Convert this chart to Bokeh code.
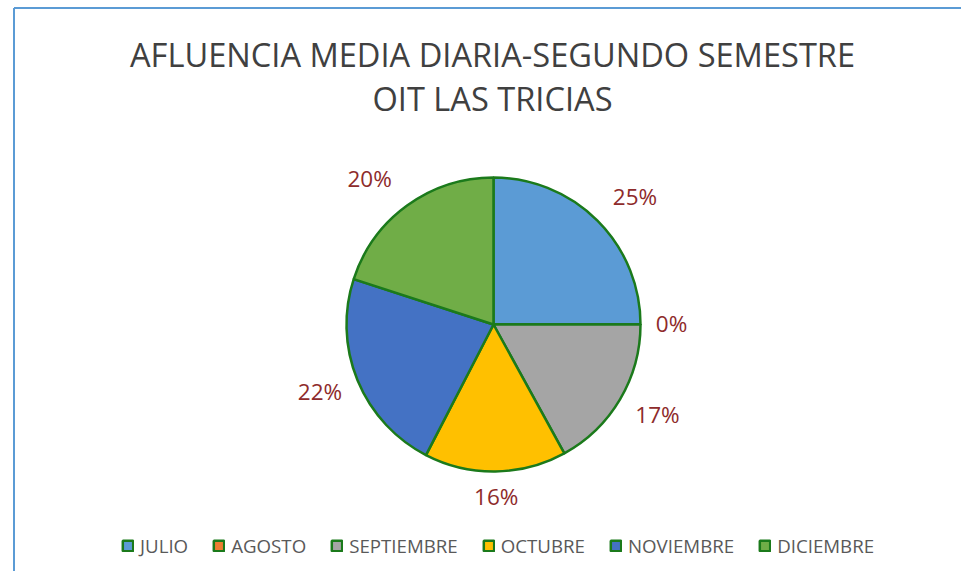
import math
from bokeh.plotting import figure
from bokeh.models import ColumnDataSource, Range1d, Legend, LegendItem
from bokeh.core.properties import value
from bokeh.embed import file_html
from bokeh.resources import INLINE

# ---- data ----
meses = ["JULIO", "AGOSTO", "SEPTIEMBRE", "OCTUBRE", "NOVIEMBRE", "DICIEMBRE"]
porcentajes = [25.0, 0.0, 17.0, 15.6, 22.4, 20.0]
etiquetas = ["25%", "0%", "17%", "16%", "22%", "20%"]
colores = ["#5B9BD5", "#ED7D31", "#A5A5A5", "#FFC000", "#4472C4", "#70AD47"]
titulo_1 = "AFLUENCIA MEDIA DIARIA-SEGUNDO SEMESTRE"
titulo_2 = "OIT LAS TRICIAS"

W, H = 961, 571


def px(x):
    return x


def py(y):
    return H - y  # image y -> data y (upwards)


p = figure(width=W, height=H, output_backend="svg", toolbar_location=None,
           x_range=Range1d(0, W), y_range=Range1d(0, H),
           min_border=0, min_border_left=0, min_border_right=0,
           min_border_top=0, min_border_bottom=0)
p.axis.visible = False
p.grid.visible = False
p.outline_line_color = None
p.background_fill_color = "white"
p.border_fill_color = "white"

# chart area edge lines
p.segment(x0=[px(13.5)], y0=[py(7.5)], x1=[px(13.5)], y1=[py(H)],
          line_color="#5B9BD5", line_width=2)
p.segment(x0=[px(13.5)], y0=[py(7.5)], x1=[px(W)], y1=[py(7.5)],
          line_color="#5B9BD5", line_width=2)

# pie geometry
cx, cy, R = px(493), py(324), 147.0
total = sum(porcentajes)
starts, ends, mids = [], [], []
cum = 0.0
for v in porcentajes:
    a0 = math.pi / 2 - 2 * math.pi * (cum + v) / total
    a1 = math.pi / 2 - 2 * math.pi * cum / total
    if v == 0:
        a1 = a0 + 1e-6  # avoid a full-circle arc for an empty slice
    starts.append(a0)
    ends.append(a1)
    mids.append((a0 + a1) / 2)
    cum += v

src = ColumnDataSource(dict(mes=meses, start=starts, end=ends, color=colores,
                            x=[cx] * len(meses), y=[cy] * len(meses)))
wr = p.wedge(x="x", y="y", radius=R, start_angle="start", end_angle="end",
             fill_color="color", line_color="#1B7A1B", line_width=2.5,
             source=src)

# data labels, "outside end" placement
fs = 22.5
lx, ly = [], []
for lab, m in zip(etiquetas, mids):
    ndig = len(lab) - 1
    w = (0.572 * ndig + 0.856) * fs
    c, s = math.cos(m), math.sin(m)
    ex, ey = cx + R * c, cy + R * s
    ox = math.copysign(w / 2 + 15, c) * min(1.0, abs(c) / 0.5)
    oy = math.copysign(26, s) * min(1.0, abs(s) / 0.8)
    lx.append(ex + ox)
    ly.append(ey + oy + 1.0)
lsrc = ColumnDataSource(dict(x=lx, y=ly, t=etiquetas))
p.text(x="x", y="y", text="t", source=lsrc, text_align="center",
       text_baseline="middle", text_font=value("Open Sans"),
       text_font_size="22.5px", text_color="#8E2B2B")

# title
tsrc = ColumnDataSource(dict(x=[px(492), px(492)], y=[py(54), py(98)],
                             t=[titulo_1, titulo_2]))
p.text(x="x", y="y", text="t", source=tsrc, text_align="center",
       text_baseline="middle", text_font=value("Open Sans"),
       text_font_size="32.6px", text_color="#404040")

# legend
items = [LegendItem(label=m, renderers=[wr], index=i) for i, m in enumerate(meses)]
legend = Legend(items=items, orientation="horizontal", location=(121, 13),
                glyph_width=13, glyph_height=13, label_standoff=6, spacing=24,
                padding=0, margin=0, border_line_alpha=0,
                background_fill_alpha=0, label_text_font="Open Sans",
                label_text_font_size="18.7px", label_text_color="#595959",
                label_height=20)
p.add_layout(legend, "center")

open("out.html", "w").write(file_html(p, INLINE))
